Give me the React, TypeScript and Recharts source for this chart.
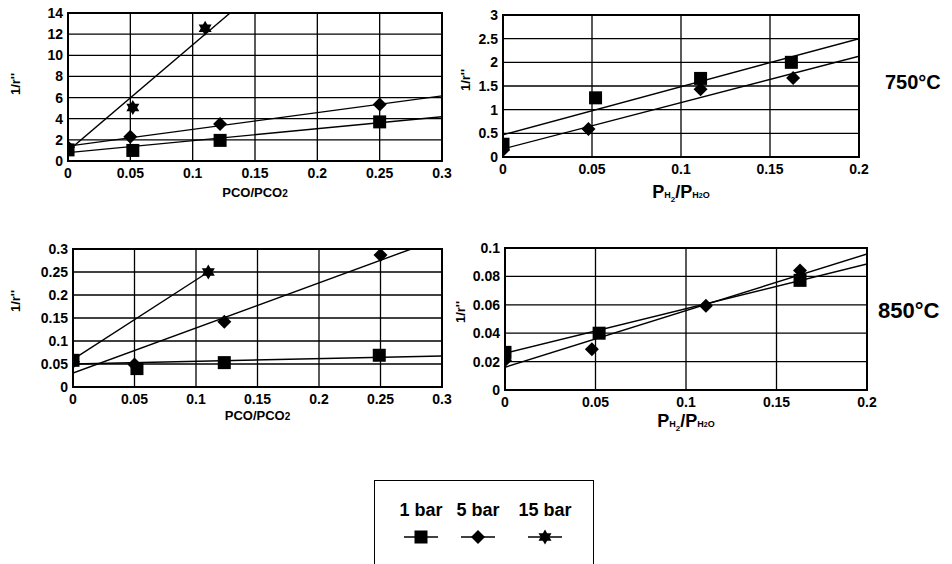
import React from 'react'
import { ComposedChart, Scatter, Line, XAxis, YAxis, CartesianGrid, ReferenceArea, Label } from 'recharts'

type Pt = { x: number; y: number }

// 750°C, 1/r'' against PCO/PCO2
const co750Bar1: Pt[] = [{ x: 0, y: 1.05 }, { x: 0.052, y: 1.0 }, { x: 0.122, y: 1.95 }, { x: 0.25, y: 3.7 }]
const co750Bar5: Pt[] = [{ x: 0, y: 1.3 }, { x: 0.05, y: 2.3 }, { x: 0.122, y: 3.5 }, { x: 0.25, y: 5.35 }]
const co750Bar15: Pt[] = [{ x: 0, y: 1.0 }, { x: 0.052, y: 5.05 }, { x: 0.11, y: 12.55 }]
const co750Fit1: Pt[] = [{ x: 0, y: 0.79 }, { x: 0.3, y: 4.18 }]
const co750Fit5: Pt[] = [{ x: 0, y: 1.41 }, { x: 0.3, y: 6.16 }]
const co750Fit15: Pt[] = [{ x: 0, y: 0.95 }, { x: 0.13, y: 14 }]

// 750°C, 1/r'' against PH2/PH2O
const h2750Bar1: Pt[] = [{ x: 0, y: 0.27 }, { x: 0.052, y: 1.25 }, { x: 0.111, y: 1.66 }, { x: 0.162, y: 2.0 }]
const h2750Bar5: Pt[] = [{ x: 0, y: 0.15 }, { x: 0.048, y: 0.59 }, { x: 0.111, y: 1.43 }, { x: 0.163, y: 1.67 }]
const h2750Fit1: Pt[] = [{ x: 0, y: 0.47 }, { x: 0.2, y: 2.5 }]
const h2750Fit5: Pt[] = [{ x: 0, y: 0.17 }, { x: 0.2, y: 2.13 }]

// 850°C, 1/r'' against PCO/PCO2
const co850Bar1: Pt[] = [{ x: 0, y: 0.058 }, { x: 0.052, y: 0.04 }, { x: 0.123, y: 0.053 }, { x: 0.249, y: 0.069 }]
const co850Bar5: Pt[] = [{ x: 0, y: 0.055 }, { x: 0.05, y: 0.049 }, { x: 0.123, y: 0.142 }, { x: 0.25, y: 0.287 }]
const co850Bar15: Pt[] = [{ x: 0, y: 0.06 }, { x: 0.11, y: 0.25 }]
const co850Fit1: Pt[] = [{ x: 0, y: 0.05 }, { x: 0.3, y: 0.0675 }]
const co850Fit5: Pt[] = [{ x: 0, y: 0.0305 }, { x: 0.275, y: 0.3 }]
const co850Fit15: Pt[] = [{ x: 0, y: 0.06 }, { x: 0.11, y: 0.25 }]

// 850°C, 1/r'' against PH2/PH2O
const h2850Bar1: Pt[] = [{ x: 0, y: 0.0265 }, { x: 0.052, y: 0.04 }, { x: 0.163, y: 0.0772 }]
const h2850Bar5: Pt[] = [{ x: 0, y: 0.021 }, { x: 0.048, y: 0.0287 }, { x: 0.111, y: 0.0593 }, { x: 0.163, y: 0.0842 }]
const h2850Fit1: Pt[] = [{ x: 0, y: 0.0259 }, { x: 0.2, y: 0.0887 }]
const h2850Fit5: Pt[] = [{ x: 0, y: 0.016 }, { x: 0.2, y: 0.0958 }]

// axis ticks
const coTicksX = [0, 0.05, 0.1, 0.15, 0.2, 0.25, 0.3]
const coMinorX = [0.025, 0.075, 0.125, 0.175, 0.225, 0.275]
const h2TicksX = [0, 0.05, 0.1, 0.15, 0.2]
const h2MinorX = [0.025, 0.075, 0.125, 0.175]
const co750TicksY = [0, 2, 4, 6, 8, 10, 12, 14]
const co750MinorY = [1, 3, 5, 7, 9, 11, 13]
const h2750TicksY = [0, 0.5, 1, 1.5, 2, 2.5, 3]
const h2750MinorY = [0.25, 0.75, 1.25, 1.75, 2.25, 2.75]
const co850TicksY = [0, 0.05, 0.1, 0.15, 0.2, 0.25, 0.3]
const co850MinorY = [0.025, 0.075, 0.125, 0.175, 0.225, 0.275]
const h2850TicksY = [0, 0.02, 0.04, 0.06, 0.08, 0.1]
const h2850MinorY = [0.01, 0.03, 0.05, 0.07, 0.09]

const pressureLabels = ['1 bar', '5 bar', '15 bar']

const FONT = '"Liberation Sans", Arial, Helvetica, sans-serif'
const tickStyle = { fontFamily: FONT, fontWeight: 700, fontSize: 14, fill: '#000' }

type MarkProps = { cx?: number; cy?: number }

const SquareMark = ({ cx = 0, cy = 0 }: MarkProps) => (
  <rect x={cx - 6.5} y={cy - 6.5} width={13} height={13} fill="#000" />
)

const DiamondMark = ({ cx = 0, cy = 0 }: MarkProps) => (
  <polygon points={`${cx},${cy - 7} ${cx + 7},${cy} ${cx},${cy + 7} ${cx - 7},${cy}`} fill="#000" />
)

const StarMark = ({ cx = 0, cy = 0 }: MarkProps) => {
  const r = 7.5
  const tri = (rot: number) =>
    [0, 1, 2]
      .map((i) => {
        const a = rot + (i * 2 * Math.PI) / 3
        return `${cx + r * Math.sin(a)},${cy - r * Math.cos(a)}`
      })
      .join(' ')
  return (
    <g fill="#000">
      <polygon points={tri(0)} />
      <polygon points={tri(Math.PI)} />
    </g>
  )
}

const markers = [SquareMark, DiamondMark, StarMark]

type Series = { points: Pt[]; fit: Pt[]; mark: (p: MarkProps) => React.ReactElement }

type PanelProps = {
  left: number
  top: number
  width: number
  height: number
  margin: { top: number; right: number; left: number; bottom: number }
  yWidth: number
  xHeight: number
  xMax: number
  xTicks: number[]
  xMinor: number[]
  yMax: number
  yTicks: number[]
  yMinor: number[]
  series: Series[]
  xTitle: (vb: any) => React.ReactElement
  yTitleX: number
  yTitleShift: number
}

const coTitle = (dy: number) => (props: any) => {
  const { x, y, width } = props.viewBox
  return (
    <text x={x + width / 2} y={y + dy} textAnchor="middle" fontFamily={FONT} fontWeight={700} fontSize={13} fill="#000">
      PCO/PCO<tspan fontSize={10}>2</tspan>
    </text>
  )
}

const h2Title = (dy: number) => (props: any) => {
  const { x, y, width } = props.viewBox
  return (
    <text x={x + width / 2} y={y + dy} textAnchor="middle" fontFamily={FONT} fontWeight={700} fontSize={18} fill="#000">
      P<tspan fontSize={9}>H</tspan>
      <tspan fontSize={8} dy={4}>2</tspan>
      <tspan dy={-4}>/P</tspan>
      <tspan fontSize={9}>H</tspan>
      <tspan fontSize={7}>2</tspan>
      <tspan fontSize={9}>O</tspan>
    </text>
  )
}

function Panel(p: PanelProps) {
  const yTitle = (props: any) => {
    const { x, y, height } = props.viewBox
    const cx = x + p.yTitleX
    const cy = y + height / 2 + p.yTitleShift
    return (
      <text
        x={cx}
        y={cy}
        transform={`rotate(-90 ${cx} ${cy})`}
        textAnchor="middle"
        dominantBaseline="central"
        fontFamily={FONT}
        fontWeight={700}
        fontSize={13}
        fill="#000"
      >
        1/r''
      </text>
    )
  }

  return (
    <div style={{ position: 'absolute', left: p.left, top: p.top }}>
      <ComposedChart width={p.width} height={p.height} margin={p.margin}>
        <CartesianGrid stroke="#000" strokeWidth={1.3} />
        <XAxis
          type="number"
          dataKey="x"
          domain={[0, p.xMax]}
          ticks={p.xTicks}
          interval={0}
          allowDataOverflow
          height={p.xHeight}
          tickLine={false}
          axisLine={false}
          tickSize={5}
          tickMargin={2}
          tick={tickStyle}
        >
          <Label content={p.xTitle} />
        </XAxis>
        <YAxis
          type="number"
          dataKey="y"
          domain={[0, p.yMax]}
          ticks={p.yTicks}
          interval={0}
          allowDataOverflow
          width={p.yWidth}
          tickLine={false}
          axisLine={false}
          tickSize={3}
          tickMargin={2}
          tick={tickStyle}
        >
          <Label content={yTitle} />
        </YAxis>
        {/* small inward ticks between the gridlines */}
        <XAxis
          xAxisId="minor"
          type="number"
          domain={[0, p.xMax]}
          ticks={p.xMinor}
          interval={0}
          mirror
          tick={false}
          axisLine={false}
          tickSize={4}
          tickLine={{ stroke: '#000', strokeWidth: 1 }}
        />
        <YAxis
          yAxisId="minor"
          type="number"
          domain={[0, p.yMax]}
          ticks={p.yMinor}
          interval={0}
          mirror
          tick={false}
          axisLine={false}
          tickSize={4}
          tickLine={{ stroke: '#000', strokeWidth: 1 }}
        />
        <ReferenceArea x1={0} x2={p.xMax} y1={0} y2={p.yMax} fill="none" fillOpacity={0} stroke="#000" strokeWidth={2} ifOverflow="visible" />
        {p.series.map((s, i) => (
          <Line
            key={`fit-${i}`}
            data={s.fit}
            dataKey="y"
            type="linear"
            stroke="#000"
            strokeWidth={1.4}
            dot={false}
            activeDot={false}
            isAnimationActive={false}
          />
        ))}
        {p.series
          .map((s, i) => ({ s, i }))
          .reverse()
          .map(({ s, i }) => (
            <Scatter
              key={`pts-${i}`}
              data={s.points}
              dataKey="y"
              shape={(props: any) => <s.mark cx={props.cx} cy={props.cy} />}
              isAnimationActive={false}
            />
          ))}
      </ComposedChart>
    </div>
  )
}

function PressureLegend() {
  const cols = [420, 477, 544]
  return (
    <div
      style={{
        position: 'absolute',
        left: 374,
        top: 480,
        width: 220,
        height: 100,
        border: '1.5px solid #000',
        boxSizing: 'border-box',
      }}
    >
      {pressureLabels.map((label, i) => {
        const Mark = markers[i]
        const cx = cols[i] - 374
        return (
          <div key={label}>
            <div
              style={{
                position: 'absolute',
                left: cx - 40,
                width: 80,
                top: 19,
                textAlign: 'center',
                fontFamily: FONT,
                fontWeight: 700,
                fontSize: 18,
                lineHeight: '20px',
                whiteSpace: 'nowrap',
              }}
            >
              {label}
            </div>
            <svg style={{ position: 'absolute', left: cx - 18, top: 47 }} width={36} height={18}>
              <line x1={1} y1={9} x2={35} y2={9} stroke="#000" strokeWidth={1.5} />
              <Mark cx={18} cy={9} />
            </svg>
          </div>
        )
      })}
    </div>
  )
}

const tempStyle: React.CSSProperties = {
  position: 'absolute',
  fontFamily: FONT,
  fontWeight: 700,
  color: '#000',
  whiteSpace: 'nowrap',
}

export default function App() {
  return (
    <div style={{ position: 'absolute', left: 0, top: 0, width: 952, height: 564, overflow: 'hidden', background: '#fff' }}>
      <Panel
        left={0}
        top={0}
        width={460}
        height={210}
        margin={{ top: 13, right: 18, left: 0, bottom: 0 }}
        yWidth={68}
        xHeight={49}
        xMax={0.3}
        xTicks={coTicksX}
        xMinor={coMinorX}
        yMax={14}
        yTicks={co750TicksY}
        yMinor={co750MinorY}
        series={[
          { points: co750Bar1, fit: co750Fit1, mark: SquareMark },
          { points: co750Bar5, fit: co750Fit5, mark: DiamondMark },
          { points: co750Bar15, fit: co750Fit15, mark: StarMark },
        ]}
        xTitle={coTitle(36)}
        yTitleX={15}
        yTitleShift={-3}
      />
      <Panel
        left={440}
        top={0}
        width={512}
        height={230}
        margin={{ top: 15, right: 93, left: 0, bottom: 0 }}
        yWidth={63}
        xHeight={73}
        xMax={0.2}
        xTicks={h2TicksX}
        xMinor={h2MinorX}
        yMax={3}
        yTicks={h2750TicksY}
        yMinor={h2750MinorY}
        series={[
          { points: h2750Bar1, fit: h2750Fit1, mark: SquareMark },
          { points: h2750Bar5, fit: h2750Fit5, mark: DiamondMark },
        ]}
        xTitle={h2Title(41)}
        yTitleX={25}
        yTitleShift={-6}
      />
      <Panel
        left={0}
        top={235}
        width={460}
        height={200}
        margin={{ top: 14, right: 18, left: 0, bottom: 0 }}
        yWidth={73}
        xHeight={48}
        xMax={0.3}
        xTicks={coTicksX}
        xMinor={coMinorX}
        yMax={0.3}
        yTicks={co850TicksY}
        yMinor={co850MinorY}
        series={[
          { points: co850Bar1, fit: co850Fit1, mark: SquareMark },
          { points: co850Bar5, fit: co850Fit5, mark: DiamondMark },
          { points: co850Bar15, fit: co850Fit15, mark: StarMark },
        ]}
        xTitle={coTitle(33)}
        yTitleX={15}
        yTitleShift={-17}
      />
      <Panel
        left={440}
        top={235}
        width={512}
        height={200}
        margin={{ top: 13, right: 85, left: 0, bottom: 0 }}
        yWidth={65}
        xHeight={45}
        xMax={0.2}
        xTicks={h2TicksX}
        xMinor={h2MinorX}
        yMax={0.1}
        yTicks={h2850TicksY}
        yMinor={h2850MinorY}
        series={[
          { points: h2850Bar1, fit: h2850Fit1, mark: SquareMark },
          { points: h2850Bar5, fit: h2850Fit5, mark: DiamondMark },
        ]}
        xTitle={h2Title(37)}
        yTitleX={20}
        yTitleShift={-7}
      />
      <div style={{ ...tempStyle, left: 885, top: 71, fontSize: 20 }}>750°C</div>
      <div style={{ ...tempStyle, left: 878, top: 298, fontSize: 22 }}>850°C</div>
      <PressureLegend />
    </div>
  )
}
